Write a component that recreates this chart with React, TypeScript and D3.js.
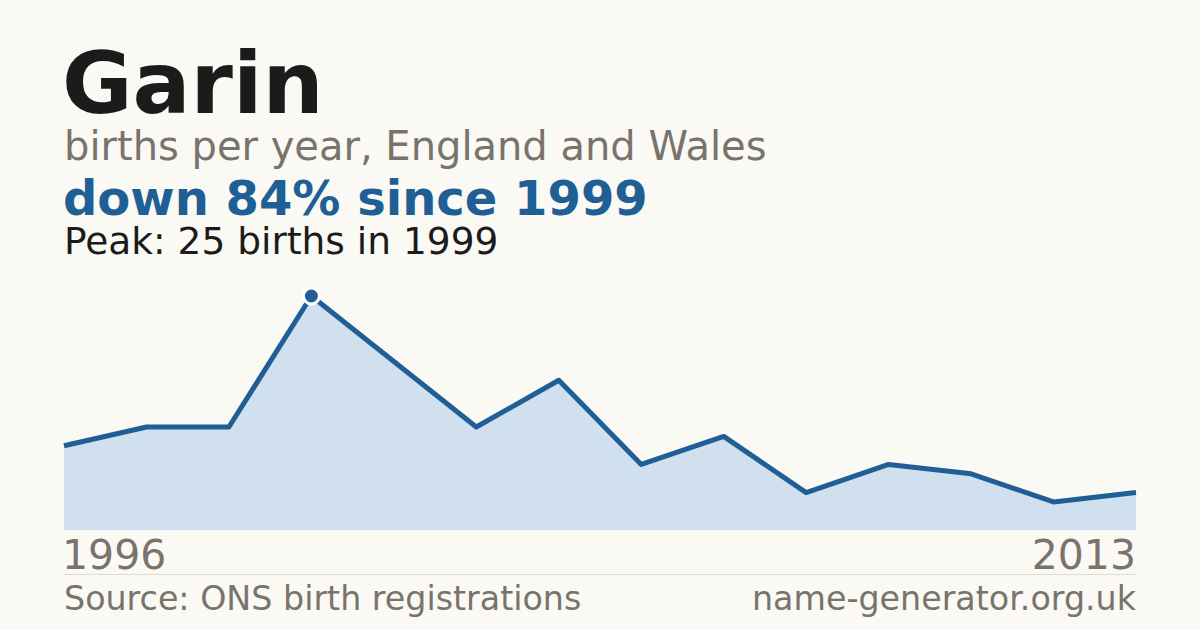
import * as d3 from 'd3';

const years = [1996, 1997, 1998, 1999, 2000, 2002, 2003, 2005, 2006, 2008, 2009, 2010, 2012, 2013];
const births = [9, 11, 11, 25, 18, 11, 16, 7, 10, 4, 7, 6, 3, 4];

const title = 'Garin';
const subtitle = 'births per year, England and Wales';
const headline = 'down 84% since 1999';
const peakNote = 'Peak: 25 births in 1999';
const source = 'Source: ONS birth registrations';
const site = 'name-generator.org.uk';

const WIDTH = 1200;
const HEIGHT = 630;
const FONT = "'DejaVu Sans', sans-serif";
const BLUE = '#1f5f96';
const GREY = '#78746c';

export default function App() {
  const left = 64;
  const right = 1136;
  const baseY = 530;
  const topY = 296;

  const x = d3
    .scalePoint<number>()
    .domain(d3.range(years.length))
    .range([left, right]);
  const y = d3
    .scaleLinear()
    .domain([0, d3.max(births) ?? 1])
    .range([baseY, topY]);

  const area = d3
    .area<number>()
    .x((_, i) => x(i) ?? 0)
    .y0(baseY)
    .y1((d) => y(d));
  const line = d3
    .line<number>()
    .x((_, i) => x(i) ?? 0)
    .y((d) => y(d));

  const peakIndex = d3.maxIndex(births);

  return (
    <svg
      width={WIDTH}
      height={HEIGHT}
      viewBox={`0 0 ${WIDTH} ${HEIGHT}`}
      style={{ position: 'absolute', left: 0, top: 0, display: 'block' }}
    >
      <rect width={WIDTH} height={HEIGHT} fill="#faf9f4" />
      <g fontFamily={FONT}>
        <text x={left - 2} y={113} fontSize={86} fontWeight={700} fill="#1b1b1b">
          {title}
        </text>
        <text x={left} y={160} fontSize={40} fill={GREY}>
          {subtitle}
        </text>
        <text x={left - 1} y={215} fontSize={48} fontWeight={700} fill={BLUE}>
          {headline}
        </text>
        <text x={left} y={254} fontSize={37.5} fill="#1b1b1b">
          {peakNote}
        </text>
      </g>

      <path d={area(births) ?? ''} fill="#d0e0ef" />
      <path
        d={line(births) ?? ''}
        fill="none"
        stroke={BLUE}
        strokeWidth={5}
        strokeLinejoin="round"
      />
      <circle
        cx={x(peakIndex)}
        cy={y(births[peakIndex])}
        r={8}
        fill={BLUE}
        stroke="#ffffff"
        strokeWidth={3}
      />

      <g fontFamily={FONT} fill={GREY}>
        <text x={left - 2} y={569} fontSize={41}>
          {years[0]}
        </text>
        <text x={right} y={569} fontSize={41} textAnchor="end">
          {years[years.length - 1]}
        </text>
        <line x1={left} x2={right} y1={574.5} y2={574.5} stroke="#dddbd5" strokeWidth={1} />
        <text x={left} y={610} fontSize={33.3}>
          {source}
        </text>
        <text x={right} y={610} fontSize={33.3} textAnchor="end">
          {site}
        </text>
      </g>
    </svg>
  );
}
